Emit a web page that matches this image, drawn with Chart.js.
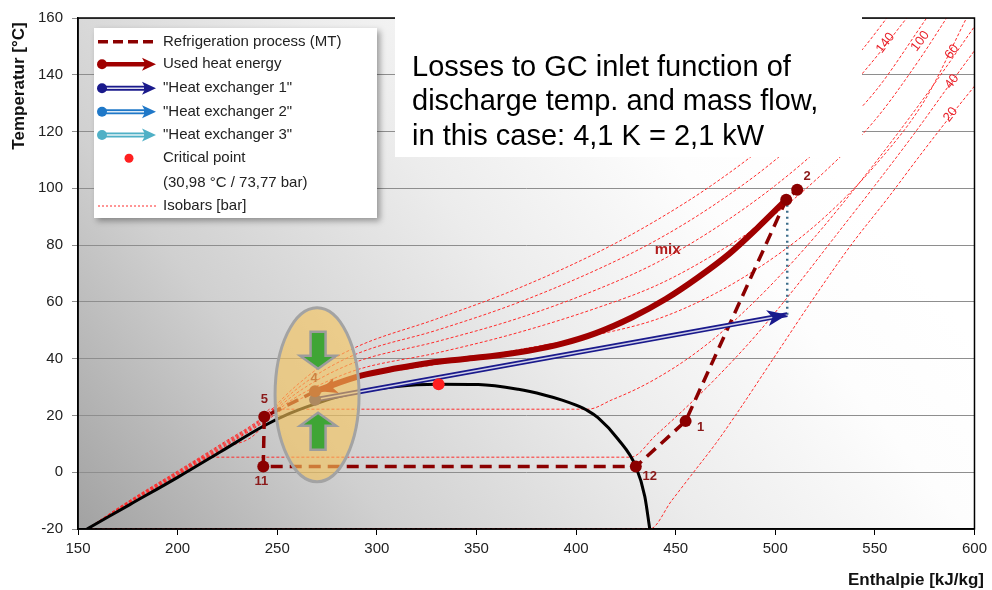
<!DOCTYPE html>
<html>
<head>
<meta charset="utf-8">
<script src="https://cdn.jsdelivr.net/npm/chart.js@4.4.0/dist/chart.umd.min.js"></script>
<style>
  html, body { margin: 0; padding: 0; background: #fff; }
  #wrap { width: 992px; height: 590px; }
</style>
</head>
<body>
<div id="wrap"><canvas id="chart" width="992" height="590"></canvas></div>
<script>
// CO2 T-h diagram: enthalpy [kJ/kg] on x, temperature [°C] on y
const xTicks = [150, 200, 250, 300, 350, 400, 450, 500, 550, 600];
const yTicks = [-20, 0, 20, 40, 60, 80, 100, 120, 140, 160];

// saturation dome (liquid line -> critical point -> dew line)
const saturation = [[154.5,-20],[176,-11.4],[200,-1.8],[222,7.4],[243,16.2],[256,20.6],[268,23.8],[280,26.5],[295,28.8],[310,30.2],[320,30.8],[331,31],[351,30.9],[371,29.2],[384,27.2],[393,25.4],[400,23.6],[406,21.6],[411,19.2],[421,11.7],[430,2],[434.5,-8.5],[437,-20]];

// isobars [bar]
const isobar20  = [[154.5,-20],[437,-20],[448,-10],[459,0],[470,10],[480,20],[499,40],[518,60],[538,80],[557,97],[572,111],[588,125.5],[600,136]];
const isobar40  = [[154.5,-20],[176,-11.1],[200,-1.4],[214,5.3],[427.5,5.3],[440,13],[454,22],[468,31.5],[490,48],[510,65],[530,83],[550,101],[570,119.5],[588,137],[600,148.5]];
const isobar60  = [[154.5,-20],[176,-10.9],[200,-1.1],[222,8],[243,16.9],[246,22.2],[406,22.2],[418,25.5],[430,29.2],[441,33.3],[455,39.5],[470,47.5],[485,57],[500,67.5],[520,83],[540,100],[560,118],[580,137],[600,157]];
const isobar80  = [[154.5,-20],[176,-10.7],[200,-0.8],[222,8.4],[243,17.5],[258,24.5],[272,29],[291,33.3],[330,38],[370,43],[411,48.5],[441,54],[470,63],[500,76],[525,90],[550,108],[575,131],[596,160]];
const isobar100 = [[154.5,-20],[176,-10.5],[200,-0.5],[222,8.8],[243,18],[258,25.8],[272,31],[291,36.3],[330,42],[370,49],[411,58],[441,66],[470,77],[500,91],[525,106],[550,124],[572,145],[586,160]];
const isobar120 = [[154.5,-20],[176,-10.3],[200,-0.2],[222,9.2],[243,18.5],[258,27],[272,33.2],[291,39.2],[330,46],[370,54],[411,64.5],[441,74],[470,86],[500,101],[525,116],[550,134],[576,160]];
const isobar140 = [[154.5,-20],[176,-10.1],[200,0.1],[222,9.6],[243,19],[258,28.3],[272,35.3],[291,42],[330,50],[370,59.5],[411,71.5],[441,82],[470,94.5],[500,110],[525,126],[548,144],[566,160]];
const isobar160 = [[154.5,-20],[176,-9.9],[200,0.4],[222,10],[243,19.5],[258,29.5],[272,37.3],[291,44.5],[330,54],[370,64.5],[411,77.5],[441,89],[470,102],[500,118],[525,134],[545,150],[556,160]];
const isobarNames = ['20', '40', '60', '100', '140'];
const isobarLabelAt = [[588,126],[588.7,137.6],[588.7,148.1],[572.8,151.8],[555.3,151.2]];

// refrigeration process (MT): 4 -> 5 -> 11 -> 12 -> 1 -> 2
const processMT = [[269,28.5],[243.5,19.5],[243,2],[430,2],[455,18],[505.5,96],[511,99.5]];
// used heat energy (gas cooler), from point 4 up to the discharge
const heatUsed = [[269,28.5],[292,34],[310,36.6],[326,38.5],[343,39.8],[359,41],[376,42.8],[393,45.3],[410,49],[428,54.5],[445,61],[461,68.5],[477,77],[491,86],[505.5,96]];
// heat exchanger 1
const hx1 = [[269,25.5],[506,55.5]];
const dischargeLoss = [[506,55.5],[506,96]];
const criticalPoint = [[331,30.98]];

const stateNames  = ['1', '2', '4', '5', '11', '12'];
const statePoints = [[455,18],[511,99.5],[269,28.5],[243.5,19.5],[243,2],[430,2]];
const stateLabelOffset = [[15,6],[10,-13],[-1,-13],[0,-17],[-2,15],[14,10]];

const zoneCenter = [270, 27.3];

const pts = arr => arr.map(([x, y]) => ({ x, y }));

function isobarSet(data) {
  return {
    data: pts(data), showLine: true, pointRadius: 0,
    borderColor: '#ff2a2a', borderWidth: 1, borderDash: [3, 2],
    cubicInterpolationMode: 'monotone'
  };
}

function arrowHead(ctx, x, y, ang, len, half, color) {
  ctx.save();
  ctx.translate(x, y);
  ctx.rotate(ang);
  ctx.beginPath();
  ctx.moveTo(0, 0);
  ctx.lineTo(-len, -half);
  ctx.lineTo(-len * 0.75, 0);
  ctx.lineTo(-len, half);
  ctx.closePath();
  ctx.fillStyle = color;
  ctx.fill();
  ctx.restore();
}

function blockArrow(ctx, cx, tip, dir) {
  // dir = 1 points down, -1 points up
  const head = 13, shaftLen = 24, hw = 18, sw = 7.5;
  const base = tip - dir * head;
  const end = base - dir * shaftLen;
  ctx.beginPath();
  ctx.moveTo(cx, tip);
  ctx.lineTo(cx - hw, base);
  ctx.lineTo(cx - sw, base);
  ctx.lineTo(cx - sw, end);
  ctx.lineTo(cx + sw, end);
  ctx.lineTo(cx + sw, base);
  ctx.lineTo(cx + hw, base);
  ctx.closePath();
  ctx.fillStyle = '#3fa535';
  ctx.fill();
  ctx.strokeStyle = '#9c9c9c';
  ctx.lineWidth = 2.5;
  ctx.stroke();
}

const FONT = '"Liberation Sans", Arial, sans-serif';

const overlay = {
  id: 'overlay',
  beforeDatasetsDraw(chart) {
    const { ctx, chartArea: a } = chart;
    ctx.save();
    const g = ctx.createLinearGradient(a.left, a.bottom, a.left + 640, a.top);
    g.addColorStop(0, '#a2a2a2');
    g.addColorStop(0.3, '#d0d0d0');
    g.addColorStop(0.6, '#ececec');
    g.addColorStop(0.85, '#fdfdfd');
    g.addColorStop(1, '#ffffff');
    ctx.globalCompositeOperation = 'destination-over';
    ctx.fillStyle = g;
    ctx.fillRect(a.left, a.top, a.right - a.left, a.bottom - a.top);
    ctx.restore();
  },
  afterDatasetsDraw(chart) {
    const { ctx, scales: { x, y } } = chart;
    ctx.save();

    // arrow heads
    const h0 = heatUsed[0], h1 = heatUsed[1];
    const a1 = Math.atan2(y.getPixelForValue(h0[1]) - y.getPixelForValue(h1[1]), x.getPixelForValue(h0[0]) - x.getPixelForValue(h1[0]));
    arrowHead(ctx, x.getPixelForValue(h0[0]) + 4, y.getPixelForValue(h0[1]), a1, 18, 8, '#a00000');
    const e0 = hx1[0], e1 = hx1[1];
    const a2 = Math.atan2(y.getPixelForValue(e1[1]) - y.getPixelForValue(e0[1]), x.getPixelForValue(e1[0]) - x.getPixelForValue(e0[0]));
    arrowHead(ctx, x.getPixelForValue(e1[0]), y.getPixelForValue(e1[1]), a2, 20, 8, '#1a1a8c');

    // state point numbers
    ctx.font = 'bold 13px ' + FONT;
    ctx.fillStyle = '#8b1a1a';
    ctx.textAlign = 'center';
    ctx.textBaseline = 'middle';
    stateNames.forEach((n, i) => {
      const p = statePoints[i], o = stateLabelOffset[i];
      ctx.fillText(n, x.getPixelForValue(p[0]) + o[0], y.getPixelForValue(p[1]) + o[1]);
    });

    ctx.font = 'bold 15px ' + FONT;
    ctx.fillStyle = '#b01c1c';
    ctx.fillText('mix', x.getPixelForValue(446), y.getPixelForValue(78.4));

    // isobar values
    ctx.font = '13px ' + FONT;
    ctx.fillStyle = '#e8202a';
    isobarNames.forEach((n, i) => {
      const p = isobarLabelAt[i];
      ctx.save();
      ctx.translate(x.getPixelForValue(p[0]), y.getPixelForValue(p[1]));
      ctx.rotate(-0.92);
      ctx.fillText(n, 0, 0);
      ctx.restore();
    });

    // highlighted zone around point 4
    const cx = x.getPixelForValue(zoneCenter[0]);
    const cy = y.getPixelForValue(zoneCenter[1]);
    ctx.beginPath();
    ctx.ellipse(cx, cy, 42, 87, 0, 0, Math.PI * 2);
    ctx.fillStyle = 'rgba(245, 196, 90, 0.62)';
    ctx.fill();
    ctx.strokeStyle = '#a3a3a3';
    ctx.lineWidth = 3;
    ctx.stroke();
    blockArrow(ctx, cx + 1, cy - 26, 1);
    blockArrow(ctx, cx + 1, cy + 18, -1);
    ctx.restore();
  },
  afterDraw(chart) {
    const { ctx, chartArea: a } = chart;
    ctx.save();
    ctx.strokeStyle = '#000';
    ctx.lineWidth = 1.5;
    ctx.strokeRect(a.left, a.top, a.right - a.left, a.bottom - a.top);

    // legend box
    ctx.save();
    ctx.shadowColor = 'rgba(0,0,0,0.35)';
    ctx.shadowBlur = 6;
    ctx.shadowOffsetX = 3;
    ctx.shadowOffsetY = 3;
    ctx.fillStyle = '#fff';
    ctx.fillRect(94, 28, 283, 190);
    ctx.restore();

    const rows = [41.7, 64.3, 88.3, 111.7, 135, 158.3, 182.7, 206];
    const texts = ['Refrigeration process (MT)', 'Used heat energy', '"Heat exchanger 1"', '"Heat exchanger 2"', '"Heat exchanger 3"', 'Critical point', '(30,98 °C / 73,77 bar)', 'Isobars [bar]'];
    ctx.font = '15px ' + FONT;
    ctx.fillStyle = '#222';
    ctx.textAlign = 'left';
    ctx.textBaseline = 'middle';
    texts.forEach((t, i) => ctx.fillText(t, 163, rows[i]));

    ctx.lineCap = 'butt';
    ctx.strokeStyle = '#8b0000';
    ctx.lineWidth = 3.5;
    ctx.setLineDash([10, 5]);
    ctx.beginPath(); ctx.moveTo(98, rows[0]); ctx.lineTo(156, rows[0]); ctx.stroke();
    ctx.setLineDash([]);

    const arrowRow = (yy, color, dbl) => {
      ctx.strokeStyle = color;
      ctx.lineWidth = dbl ? 5 : 4.5;
      ctx.beginPath(); ctx.moveTo(102, yy); ctx.lineTo(146, yy); ctx.stroke();
      if (dbl) {
        ctx.strokeStyle = 'rgba(255,255,255,0.85)';
        ctx.lineWidth = 1.5;
        ctx.beginPath(); ctx.moveTo(106, yy); ctx.lineTo(144, yy); ctx.stroke();
      }
      arrowHead(ctx, 156, yy, 0, 14, 6.5, color);
      ctx.fillStyle = color;
      ctx.beginPath(); ctx.arc(102, yy, 5, 0, Math.PI * 2); ctx.fill();
    };
    arrowRow(rows[1], '#a00000', false);
    arrowRow(rows[2], '#1a1a8c', true);
    arrowRow(rows[3], '#1f78c8', true);
    arrowRow(rows[4], '#4fb0c6', true);

    ctx.fillStyle = '#ff2020';
    ctx.beginPath(); ctx.arc(129, rows[5], 4.5, 0, Math.PI * 2); ctx.fill();

    ctx.strokeStyle = '#ff2a2a';
    ctx.lineWidth = 1;
    ctx.setLineDash([2, 2]);
    ctx.beginPath(); ctx.moveTo(98, rows[7]); ctx.lineTo(156, rows[7]); ctx.stroke();
    ctx.setLineDash([]);

    // note box
    ctx.fillStyle = '#fff';
    ctx.fillRect(395, 17, 467, 140);
    ctx.fillStyle = '#000';
    ctx.font = '29px ' + FONT;
    ctx.fillText('Losses to GC inlet function of', 412, 68);
    ctx.fillText('discharge temp. and mass flow,', 412, 102);
    ctx.fillText('in this case: 4,1 K = 2,1 kW', 412, 137);

    // axis titles
    ctx.font = 'bold 17px ' + FONT;
    ctx.fillStyle = '#111';
    ctx.textAlign = 'right';
    ctx.fillText('Enthalpie [kJ/kg]', 984, 580);
    ctx.translate(19, 86);
    ctx.rotate(-Math.PI / 2);
    ctx.textAlign = 'center';
    ctx.fillText('Temperatur [°C]', 0, 0);
    ctx.restore();
  }
};

const chart = new Chart(document.getElementById('chart'), {
  type: 'scatter',
  data: {
    datasets: [
      {
        data: pts(statePoints.concat([[505.5, 96]]).filter((p, i) => i !== 2)),
        pointRadius: 6, pointBackgroundColor: '#8b0000', pointBorderWidth: 0, showLine: false
      },
      {
        data: pts([statePoints[2]]),
        pointRadius: 6, pointBackgroundColor: '#8b1a1a', pointBorderWidth: 0, showLine: false
      },
      {
        data: pts([hx1[0]]),
        pointRadius: 6, pointBackgroundColor: '#3a2a6a', pointBorderWidth: 0, showLine: false
      },
      {
        data: pts(criticalPoint),
        pointRadius: 6, pointBackgroundColor: '#ff2020', pointBorderWidth: 0, showLine: false
      },
      {
        data: pts(heatUsed), showLine: true, pointRadius: 0,
        borderColor: '#a00000', borderWidth: 6, cubicInterpolationMode: 'monotone'
      },
      {
        data: pts(hx1), showLine: true, pointRadius: 0,
        borderColor: 'rgba(255,255,255,0.8)', borderWidth: 1.5
      },
      {
        data: pts(hx1), showLine: true, pointRadius: 0,
        borderColor: '#1a1a8c', borderWidth: 5
      },
      {
        data: pts(dischargeLoss), showLine: true, pointRadius: 0,
        borderColor: '#3d6d8a', borderWidth: 2.5, borderDash: [2, 4]
      },
      {
        data: pts(processMT), showLine: true, pointRadius: 0, tension: 0,
        borderColor: '#8b0000', borderWidth: 3.5, borderDash: [12, 7]
      },
      {
        data: pts(saturation), showLine: true, pointRadius: 0,
        borderColor: '#000', borderWidth: 3, cubicInterpolationMode: 'monotone'
      },
      isobarSet(isobar20), isobarSet(isobar40), isobarSet(isobar60), isobarSet(isobar80),
      isobarSet(isobar100), isobarSet(isobar120), isobarSet(isobar140), isobarSet(isobar160)
    ]
  },
  options: {
    responsive: false,
    devicePixelRatio: 1,
    animation: false,
    layout: { padding: { left: 0, right: 16, top: 15, bottom: 0 } },
    plugins: { legend: { display: false }, tooltip: { enabled: false } },
    scales: {
      x: {
        type: 'linear', min: xTicks[0], max: xTicks[xTicks.length - 1],
        afterFit: s => { s.height = 61; },
        afterBuildTicks: s => { s.ticks = xTicks.map(v => ({ value: v })); },
        grid: { drawOnChartArea: false, drawTicks: true, tickLength: 6, color: '#000' },
        border: { display: true, color: '#000', width: 1.5 },
        ticks: { color: '#222', font: { family: FONT, size: 15 }, padding: 5 }
      },
      y: {
        type: 'linear', min: yTicks[0], max: yTicks[yTicks.length - 1],
        afterFit: s => { s.width = 78; },
        afterBuildTicks: s => { s.ticks = yTicks.map(v => ({ value: v })); },
        grid: { color: '#8e8e8e', borderDash: [3, 3], tickLength: 6, tickColor: '#8e8e8e', lineWidth: 1 },
        border: { display: true, color: '#000', width: 1.5 },
        ticks: { color: '#222', font: { family: FONT, size: 15 }, padding: 9 }
      }
    }
  },
  plugins: [overlay]
});
</script>
</body>
</html>
